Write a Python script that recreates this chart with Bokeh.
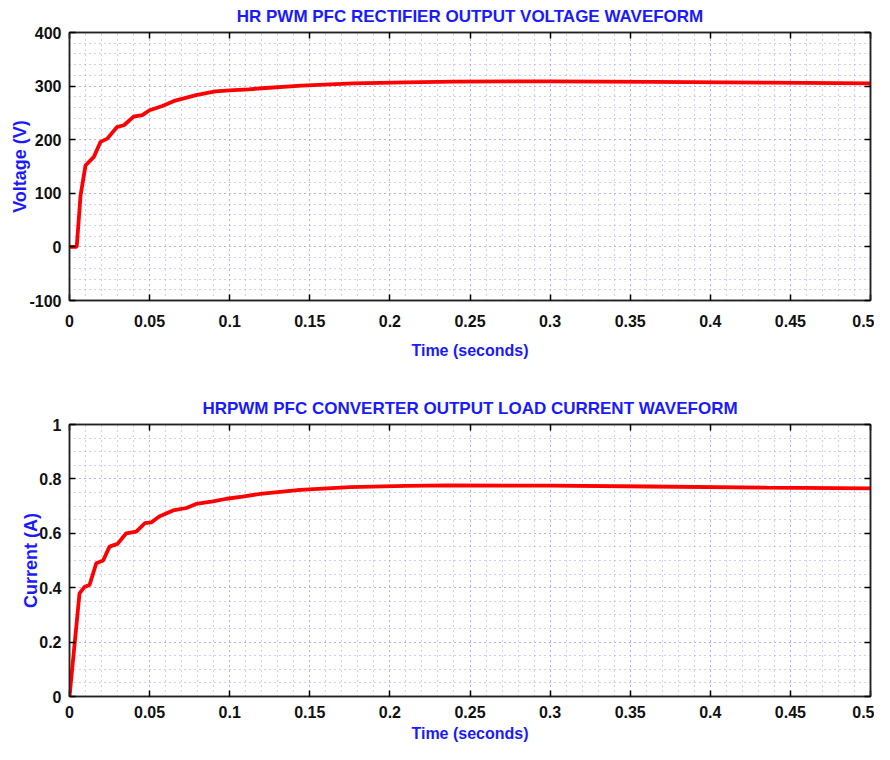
from bokeh.plotting import figure
from bokeh.layouts import column
from bokeh.models import (SingleIntervalTicker, LinearAxis, CustomJSTickFormatter, Range1d,
                          CustomLabelingPolicy)
from bokeh.embed import file_html
from bokeh.resources import INLINE

# ---- data ----
t_voltage = [0, 0.0045, 0.0069, 0.010, 0.0152, 0.0194, 0.0236, 0.0298, 0.034, 0.040,
             0.0454, 0.050, 0.058, 0.066, 0.079, 0.091, 0.100, 0.112, 0.120, 0.145,
             0.177, 0.210, 0.240, 0.300, 0.364, 0.437, 0.500]
voltage = [0, 0, 96, 152, 168, 196, 202, 224, 227, 243,
           246, 255, 263, 273, 283, 290, 292, 294, 296, 301,
           305, 307, 308.5, 309, 308, 306.5, 305]

t_current = [0, 0.00625, 0.0094, 0.0125, 0.0167, 0.021, 0.025, 0.030, 0.0354, 0.0417,
             0.047, 0.051, 0.056, 0.0646, 0.073, 0.079, 0.0896, 0.098, 0.108, 0.119,
             0.144, 0.175, 0.210, 0.238, 0.300, 0.362, 0.435, 0.500]
current = [0, 0.379, 0.403, 0.41, 0.49, 0.50, 0.551, 0.561, 0.60, 0.606,
           0.637, 0.64, 0.662, 0.684, 0.693, 0.708, 0.717, 0.727, 0.735, 0.745,
           0.760, 0.770, 0.774, 0.776, 0.775, 0.772, 0.768, 0.765]

titles = ["HR PWM PFC RECTIFIER OUTPUT VOLTAGE WAVEFORM",
          "HRPWM PFC CONVERTER OUTPUT LOAD CURRENT WAVEFORM"]
x_label = "Time (seconds)"
y_labels = ["Voltage (V)", "Current (A)"]
x_range = (0, 0.5)
y_ranges = [(-100, 400), (0, 1)]
x_tick_step = 0.05
y_tick_steps = [100, 0.2]
y_minor = [5, 4]

FONT = "Liberation Sans"
BLUE = "#1a1aff"
AXC = "#222222"
fmt_code = "return (Math.round(tick*1000)/1000).toString();"


def mirror_axis(ticker):
    # tick marks only (MATLAB-style box ticks); no labels are drawn
    return LinearAxis(ticker=ticker, formatter=CustomJSTickFormatter(code="return '';"),
                      major_label_policy=CustomLabelingPolicy(code="return new Set();"),
                      major_label_text_font_size="8px", major_label_standoff=0,
                      major_tick_in=6, major_tick_out=0, minor_tick_line_color=None,
                      axis_line_color=AXC, axis_line_width=1.5, major_tick_line_width=1.5)


def make_fig(i, width, height, borders, x_std, y_std):
    l, r, t, b = borders
    p = figure(width=width, height=height, output_backend="svg", toolbar_location=None,
               x_range=Range1d(*x_range), y_range=Range1d(*y_ranges[i]),
               min_border_left=l, min_border_right=r, min_border_top=t, min_border_bottom=b,
               x_axis_label=x_label, y_axis_label=y_labels[i])
    p.title.text = titles[i]
    p.title.align = "center"
    p.title.text_color = BLUE
    p.title.text_font = FONT
    p.title.text_font_size = "17px"
    p.title.text_font_style = "bold"
    p.title.standoff = 6

    xt = SingleIntervalTicker(interval=x_tick_step, num_minor_ticks=5)
    yt = SingleIntervalTicker(interval=y_tick_steps[i], num_minor_ticks=y_minor[i])
    p.xaxis.ticker = xt
    p.yaxis.ticker = yt
    for ax in (p.xaxis[0], p.yaxis[0]):
        ax.formatter = CustomJSTickFormatter(code=fmt_code)
        ax.major_label_text_font = FONT
        ax.major_label_text_font_size = "16px"
        ax.major_label_text_font_style = "bold"
        ax.major_label_text_color = "#111111"
        ax.axis_label_text_font = FONT
        ax.axis_label_text_font_style = "bold"
        ax.axis_label_text_color = BLUE
        ax.major_tick_in = 6
        ax.major_tick_out = 0
        ax.minor_tick_line_color = None
        ax.axis_line_color = AXC
        ax.axis_line_width = 1.5
        ax.major_tick_line_width = 1.5
    p.xaxis.axis_label_text_font_size = "16px"
    p.yaxis.axis_label_text_font_size = "18px"
    p.xaxis.major_label_standoff = x_std[0]
    p.xaxis.axis_label_standoff = x_std[1]
    p.yaxis.major_label_standoff = 4
    p.yaxis.axis_label_standoff = y_std

    p.add_layout(mirror_axis(xt), "above")
    p.add_layout(mirror_axis(yt), "right")

    for g in (p.xgrid[0], p.ygrid[0]):
        g.grid_line_color = "#7f7fff"
        g.grid_line_alpha = 0.75
        g.grid_line_dash = "1 4"
        g.grid_line_width = 1
        g.minor_grid_line_color = "#7f7fff"
        g.minor_grid_line_alpha = 0.75
        g.minor_grid_line_dash = "1 4"
        g.minor_grid_line_width = 1

    p.outline_line_color = AXC
    p.outline_line_width = 1.5
    p.background_fill_color = "white"
    p.border_fill_color = "white"
    return p


p1 = make_fig(0, 874, 380, (60, 3, 32, 80), (10, 12), -4)
p1.line(t_voltage, voltage, line_color="#ff0000", line_width=3.8)

p2 = make_fig(1, 874, 364, (69, 0, 44, 47), (5, 4), -5)
p2.line(t_current, current, line_color="#ff0000", line_width=3.8)

layout = column(p1, p2, spacing=0)
open("out.html", "w").write(file_html(layout, INLINE))
